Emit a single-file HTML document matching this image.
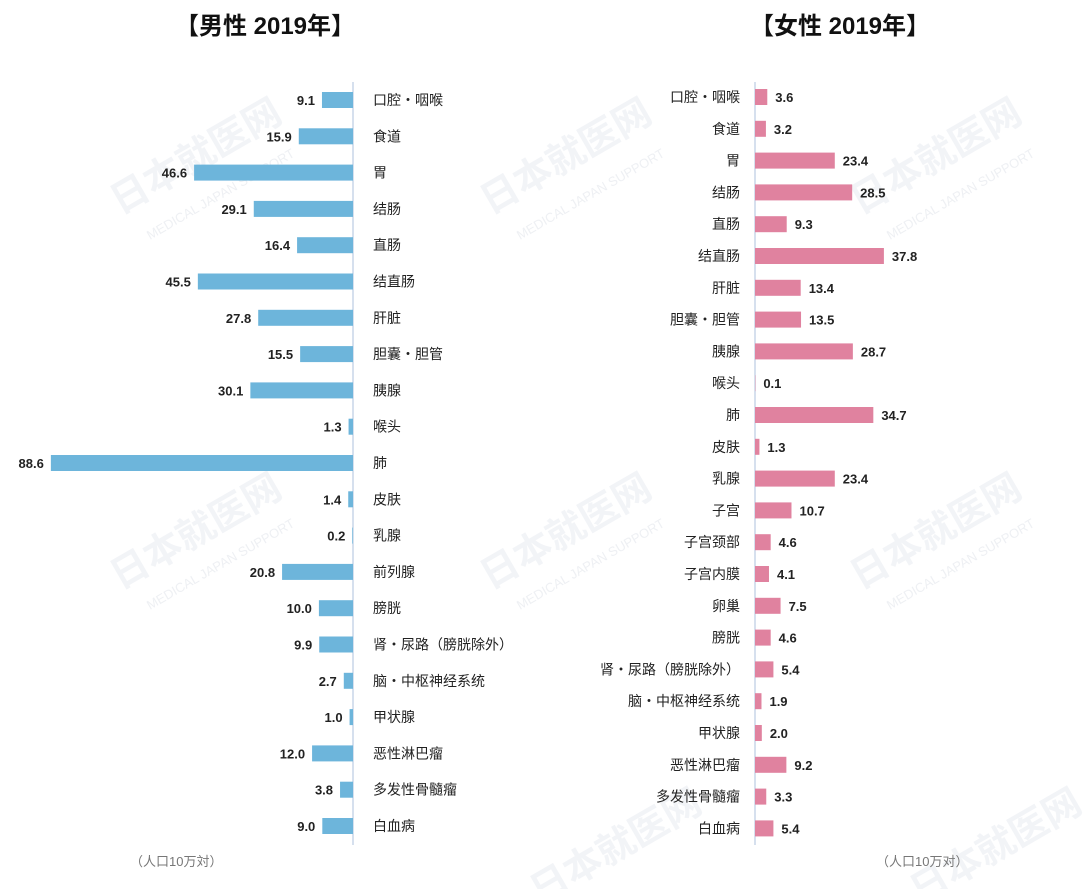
<!DOCTYPE html>
<html><head><meta charset="utf-8"><style>
body{margin:0;background:#fff;}
svg{display:block;font-family:"Liberation Sans","Noto Sans CJK SC",sans-serif;}
</style></head><body>
<svg width="1089" height="889" xmlns="http://www.w3.org/2000/svg">
<g fill="#e3e7ee" font-size="38" font-weight="bold" opacity="0.45">
<text transform="translate(120,215) rotate(-30)">日本就医网</text>
<text transform="translate(490,215) rotate(-30)">日本就医网</text>
<text transform="translate(860,215) rotate(-30)">日本就医网</text>
<text transform="translate(120,590) rotate(-30)">日本就医网</text>
<text transform="translate(490,590) rotate(-30)">日本就医网</text>
<text transform="translate(860,590) rotate(-30)">日本就医网</text>
<text transform="translate(540,905) rotate(-30)">日本就医网</text>
<text transform="translate(920,905) rotate(-30)">日本就医网</text>
</g>
<g fill="#e3e6ec" font-size="13" opacity="0.6">
<text transform="translate(150,240) rotate(-30)">MEDICAL JAPAN SUPPORT</text>
<text transform="translate(520,240) rotate(-30)">MEDICAL JAPAN SUPPORT</text>
<text transform="translate(890,240) rotate(-30)">MEDICAL JAPAN SUPPORT</text>
<text transform="translate(150,610) rotate(-30)">MEDICAL JAPAN SUPPORT</text>
<text transform="translate(520,610) rotate(-30)">MEDICAL JAPAN SUPPORT</text>
<text transform="translate(890,610) rotate(-30)">MEDICAL JAPAN SUPPORT</text>
</g>
<text x="265" y="34" font-size="24" font-weight="bold" text-anchor="middle" fill="#111">【男性 2019年】</text>
<text x="840" y="34" font-size="24" font-weight="bold" text-anchor="middle" fill="#111">【女性 2019年】</text>
<line x1="353" y1="82" x2="353" y2="845" stroke="#c8d6e8" stroke-width="1.5"/>
<line x1="755" y1="82" x2="755" y2="845" stroke="#c8d6e8" stroke-width="1.5"/>
<g id="L" font-size="14"></g>
<g id="R" font-size="14"></g>
<text x="130" y="866" font-size="13" fill="#777">（人口10万対）</text>
<text x="876" y="866" font-size="13" fill="#777">（人口10万对）</text>
<script>
var ns="http://www.w3.org/2000/svg";
function el(p,t,a,txt){var e=document.createElementNS(ns,t);for(var k in a)e.setAttribute(k,a[k]);if(txt!=null)e.textContent=txt;p.appendChild(e);return e;}
var s=3.41;
var L=[["口腔・咽喉",9.1],["食道",15.9],["胃",46.6],["结肠",29.1],["直肠",16.4],["结直肠",45.5],["肝脏",27.8],["胆囊・胆管",15.5],["胰腺",30.1],["喉头",1.3],["肺",88.6],["皮肤",1.4],["乳腺",0.2],["前列腺",20.8],["膀胱",10.0],["肾・尿路（膀胱除外）",9.9],["脑・中枢神经系统",2.7],["甲状腺",1.0],["恶性淋巴瘤",12.0],["多发性骨髓瘤",3.8],["白血病",9.0]];
var g=document.getElementById("L");
L.forEach(function(d,i){var y=100+i*36.3;var w=d[1]*s;
el(g,"rect",{x:353-w,y:y-8,width:w,height:16,fill:"#6db5db"});
el(g,"text",{x:353-w-7,y:y+5,"text-anchor":"end","font-weight":"bold","font-size":"13",fill:"#222"},d[1].toFixed(1));
el(g,"text",{x:373,y:y+5,fill:"#222"},d[0]);});
var R=[["口腔・咽喉",3.6],["食道",3.2],["胃",23.4],["结肠",28.5],["直肠",9.3],["结直肠",37.8],["肝脏",13.4],["胆囊・胆管",13.5],["胰腺",28.7],["喉头",0.1],["肺",34.7],["皮肤",1.3],["乳腺",23.4],["子宫",10.7],["子宫颈部",4.6],["子宫内膜",4.1],["卵巢",7.5],["膀胱",4.6],["肾・尿路（膀胱除外）",5.4],["脑・中枢神经系统",1.9],["甲状腺",2.0],["恶性淋巴瘤",9.2],["多发性骨髓瘤",3.3],["白血病",5.4]];
g=document.getElementById("R");
R.forEach(function(d,i){var y=97+i*31.8;var w=d[1]*s;
el(g,"rect",{x:755,y:y-8,width:w,height:16,fill:"#e0829f"});
el(g,"text",{x:755+w+8,y:y+5,"font-weight":"bold","font-size":"13",fill:"#222"},d[1].toFixed(1));
el(g,"text",{x:740,y:y+5,"text-anchor":"end",fill:"#222"},d[0]);});
</script>
</svg>
</body></html>
